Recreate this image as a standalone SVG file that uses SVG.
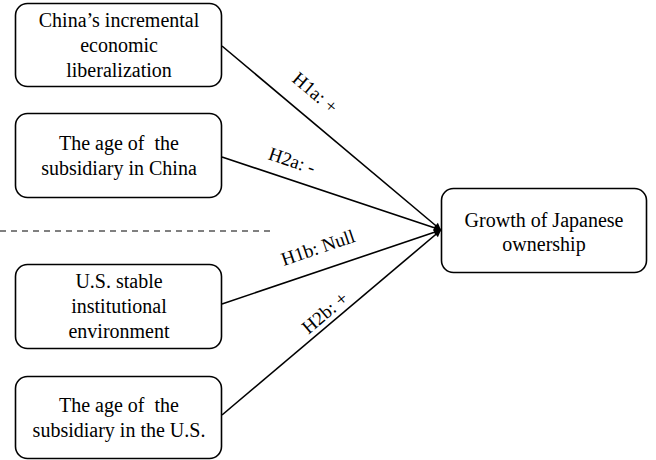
<svg xmlns="http://www.w3.org/2000/svg" width="656" height="460" viewBox="0 0 656 460">
<style>
.box{fill:#fff;stroke:#000;stroke-width:1.6}
.t{font-family:"Liberation Serif","Times New Roman",serif;font-size:20px;fill:#000;text-anchor:middle;white-space:pre}
.lab{font-family:"Liberation Serif","Times New Roman",serif;font-size:19px;fill:#000;text-anchor:middle}
.edge{stroke:#000;stroke-width:1.6;fill:none;marker-end:url(#arr)}
</style>
<defs>
<marker id="arr" viewBox="0 0 10 10" refX="10" refY="5" markerWidth="11" markerHeight="7" markerUnits="userSpaceOnUse" orient="auto">
<path d="M0,0 L10,5 L0,10 z" fill="#000"/>
</marker>
</defs>
<rect width="656" height="460" fill="#fff"/>
<g id="connectors">
<line x1="0" y1="231" x2="273" y2="231" stroke="#000" stroke-width="1" stroke-dasharray="6,5"/>
<line class="edge" x1="222" y1="46" x2="441" y2="230"/>
<line class="edge" x1="222" y1="157" x2="441" y2="230"/>
<line class="edge" x1="222" y1="304" x2="441" y2="230"/>
<line class="edge" x1="222" y1="415" x2="441" y2="230"/>
<text class="lab" transform="translate(315,93) rotate(40)" y="6">H1a: +</text>
<text class="lab" transform="translate(292,161) rotate(18.7)" y="6">H2a: -</text>
<text class="lab" transform="translate(318,248) rotate(-18.7)" y="6">H1b: Null</text>
<text class="lab" transform="translate(325,313) rotate(-40)" y="6">H2b: +</text>
</g>
<g id="n1">
<rect class="box" x="15.5" y="3.5" width="206" height="83" rx="12"/>
<text class="t" x="119" y="27">China’s incremental</text>
<text class="t" x="119" y="52">economic</text>
<text class="t" x="119" y="77">liberalization</text>
</g>
<g id="n2">
<rect class="box" x="15.5" y="113.5" width="206" height="84" rx="12"/>
<text class="t" x="119" y="150" xml:space="preserve">The age of  the</text>
<text class="t" x="119" y="175">subsidiary in China</text>
</g>
<g id="n3">
<rect class="box" x="15.5" y="264.5" width="206" height="84" rx="12"/>
<text class="t" x="119" y="288">U.S. stable</text>
<text class="t" x="119" y="313">institutional</text>
<text class="t" x="119" y="338">environment</text>
</g>
<g id="n4">
<rect class="box" x="15.5" y="376.5" width="206" height="82" rx="12"/>
<text class="t" x="119" y="412" xml:space="preserve">The age of  the</text>
<text class="t" x="119" y="437">subsidiary in the U.S.</text>
</g>
<g id="n5">
<rect class="box" x="441.5" y="188.5" width="205" height="84" rx="12"/>
<text class="t" x="544" y="227">Growth of Japanese</text>
<text class="t" x="544" y="251">ownership</text>
</g>
</svg>
